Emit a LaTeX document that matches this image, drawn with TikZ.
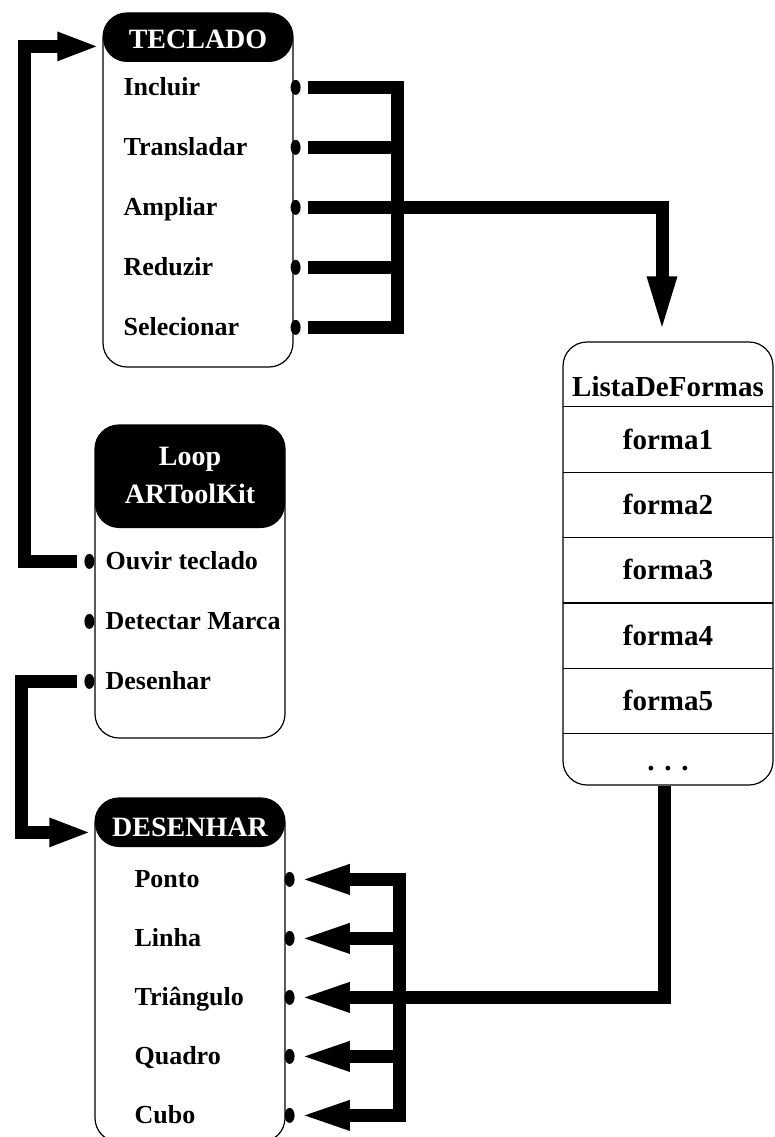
\documentclass[tikz,border=0pt]{standalone}
\usepackage{fontspec}
\setmainfont{Liberation Serif}
\usetikzlibrary{arrows.meta,positioning,shapes.geometric}
\newcommand{\itemfont}{\bfseries\fontsize{26}{30}\selectfont}
\newcommand{\headfont}{\bfseries\fontsize{28}{38}\selectfont}
\newcommand{\listfont}{\bfseries\fontsize{29}{34}\selectfont}

\begin{document}
\begin{tikzpicture}[x=1pt, y=-1pt,
  classbox/.style={draw, line width=1.2pt, rounded corners=24pt, inner sep=0pt,
    minimum width=190pt,
    path picture={\fill (path picture bounding box.north west)
      rectangle ([yshift=-#1]path picture bounding box.north east);}},
  listbox/.style={draw, line width=1.2pt, rounded corners=24pt, inner sep=0pt,
    minimum width=210pt},
  title/.style={text=white, font=\headfont, align=center, inner sep=0pt},
  item/.style={font=\itemfont, anchor=west, inner sep=0pt, text height=17pt,
    text depth=0pt},
  row/.style={font=\listfont, minimum width=210pt, minimum height=65pt,
    inner sep=0pt, text height=19pt, text depth=0pt},
  rowline/.style={line width=1.2pt},
  port/.style={ellipse, fill, inner sep=0pt, minimum width=10pt, minimum height=15pt},
  wire/.style={line width=13pt},
  arrowto/.style={-{Triangle[length=#1, width=26pt]}}]
\useasboundingbox (0,0) rectangle (774,1137);

% TECLADO
\node[classbox=49pt, minimum height=354pt] (tec) at (198,190) {};
\node[title] (tectitle) at ([yshift=-27pt]tec.north) {TECLADO};
\node[item] (incluir) at ([xshift=21pt,yshift=-75pt]tec.north west) {Incluir};
\node[item, below=60pt of incluir.west, anchor=west] (transladar) {Transladar};
\node[item, below=60pt of transladar.west, anchor=west] (ampliar) {Ampliar};
\node[item, below=60pt of ampliar.west, anchor=west] (reduzir) {Reduzir};
\node[item, below=60pt of reduzir.west, anchor=west] (selecionar) {Selecionar};
\node[port, xshift=2pt] (pinc) at (tec.east |- incluir.west) {};
\node[port, xshift=2pt] (ptra) at (tec.east |- transladar.west) {};
\node[port, xshift=2pt] (pamp) at (tec.east |- ampliar.west) {};
\node[port, xshift=2pt] (pred) at (tec.east |- reduzir.west) {};
\node[port, xshift=2pt] (psel) at (tec.east |- selecionar.west) {};

% Loop ARToolKit
\node[classbox=103pt, minimum height=313pt] (loop) at (190,581.5) {};
\node[title] (looptitle) at ([yshift=-51pt]loop.north) {Loop\\ARToolKit};
\node[item] (ouvir) at ([xshift=11pt,yshift=-137pt]loop.north west) {Ouvir teclado};
\node[item, below=60pt of ouvir.west, anchor=west] (detectar) {Detectar Marca};
\node[item, below=60pt of detectar.west, anchor=west] (desenhar) {Desenhar};
\node[port, xshift=-5pt] (pouv) at (loop.west |- ouvir.west) {};
\node[port, xshift=-5pt] (pdet) at (loop.west |- detectar.west) {};
\node[port, xshift=-5pt] (pdes) at (loop.west |- desenhar.west) {};

% DESENHAR
\node[classbox=49pt, minimum height=344pt] (des) at (190,970) {};
\node[title] (destitle) at ([yshift=-30pt]des.north) {DESENHAR};
\node[item] (ponto) at ([xshift=40pt,yshift=-82pt]des.north west) {Ponto};
\node[item, below=59pt of ponto.west, anchor=west] (linha) {Linha};
\node[item, below=59pt of linha.west, anchor=west] (triangulo) {Triângulo};
\node[item, below=59pt of triangulo.west, anchor=west] (quadro) {Quadro};
\node[item, below=59pt of quadro.west, anchor=west] (cubo) {Cubo};
\node[port, xshift=4pt] (ppon) at (des.east |- ponto.west) {};
\node[port, xshift=4pt] (plin) at (des.east |- linha.west) {};
\node[port, xshift=4pt] (ptri) at (des.east |- triangulo.west) {};
\node[port, xshift=4pt] (pqua) at (des.east |- quadro.west) {};
\node[port, xshift=4pt] (pcub) at (des.east |- cubo.west) {};

% ListaDeFormas
\node[listbox, minimum height=443pt] (lista) at (668,563.5) {};
\node[row, text height=44pt, below=0pt of lista.north] (lhead) {ListaDeFormas};
\node[row, below=0pt of lhead] (f1) {forma1};
\node[row, below=0pt of f1] (f2) {forma2};
\node[row, below=0pt of f2] (f3) {forma3};
\node[row, below=0pt of f3] (f4) {forma4};
\node[row, below=0pt of f4] (f5) {forma5};
\node[row, minimum height=53pt, below=0pt of f5] (fmore) {. . .};
\draw[rowline] (f1.north west) -- (f1.north east) (f2.north west) -- (f2.north east)
  (f3.north west) -- (f3.north east) (f4.north west) -- (f4.north east)
  (f5.north west) -- (f5.north east) (fmore.north west) -- (fmore.north east);

% teclado -> lista
\coordinate (tbus) at ([xshift=104pt]tec.east);
\draw[wire] ([xshift=7pt]pinc.east) -- (pinc -| tbus);
\draw[wire] ([xshift=7pt]ptra.east) -- (ptra -| tbus);
\draw[wire] ([xshift=7pt]pamp.east) -- (pamp -| tbus);
\draw[wire] ([xshift=7pt]pred.east) -- (pred -| tbus);
\draw[wire] ([xshift=7pt]psel.east) -- (psel -| tbus);
\draw[wire, line cap=rect] (pinc -| tbus) -- (psel -| tbus);
\draw[wire, arrowto=58pt] (pamp -| tbus) -| ([xshift=-6pt,yshift=7pt]lista.north);

% lista -> desenhar
\coordinate (dbus) at ([xshift=114pt]des.east);
\draw[wire] ([xshift=-4pt]lista.south) |- (ptri -| dbus);
\draw[wire, line cap=rect] (ppon -| dbus) -- (pcub -| dbus);
\draw[wire, arrowto=52pt] (ppon -| dbus) -- ([xshift=3pt]ppon.east);
\draw[wire, arrowto=52pt] (plin -| dbus) -- ([xshift=3pt]plin.east);
\draw[wire, arrowto=52pt] (ptri -| dbus) -- ([xshift=3pt]ptri.east);
\draw[wire, arrowto=52pt] (pqua -| dbus) -- ([xshift=3pt]pqua.east);
\draw[wire, arrowto=52pt] (pcub -| dbus) -- ([xshift=3pt]pcub.east);

% loop -> teclado, loop -> desenhar
\coordinate (tecin) at ([xshift=-3pt,yshift=-34pt]tec.north west);
\coordinate (lrail) at ([xshift=-75pt]tecin);
\draw[wire, arrowto=42pt] ([xshift=-7pt]pouv.west) -| (lrail) -- (tecin);
\coordinate (desin) at ([xshift=-3pt,yshift=-35pt]des.north west);
\coordinate (drail) at ([xshift=-70pt]desin);
\draw[wire, arrowto=42pt] ([xshift=-7pt]pdes.west) -| (drail) -- (desin);
\end{tikzpicture}
\end{document}
